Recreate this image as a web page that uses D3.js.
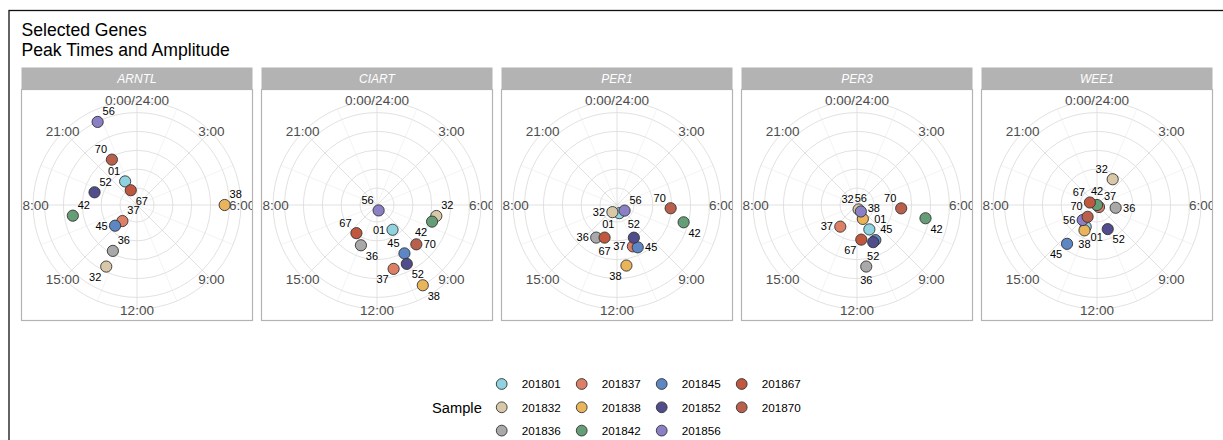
<!DOCTYPE html>
<html><head><meta charset="utf-8">
<script src="https://cdn.jsdelivr.net/npm/d3@7"></script>
<style>
body{margin:0;background:#fff;}
svg{display:block;font-family:"Liberation Sans",Arial,Helvetica,sans-serif;}
</style></head><body>
<svg id="chart" width="1223" height="440"></svg>
<script>
// ---------------- data ----------------
const genes = ["ARNTL", "CIART", "PER1", "PER3", "WEE1"];
const samples = ["201801","201832","201836","201837","201838","201842","201845","201852","201856","201867","201870"];
const palette = ["#8fd2e0","#d8c8a8","#a9a9a9","#dc7f66","#e9b45a","#659e76","#5d87c4","#514c8c","#8b80c6","#c0573f","#b9604d"];
// peak time (hours) and amplitude per gene, in the order of `samples`
const arntlPeak = [22.22,13.77,13.85,14.82, 6.00,17.37,15.11,19.11,22.31,22.47,22.07];
const arntlAmp  = [0.30, 0.75, 0.57, 0.25, 0.95, 0.71, 0.34, 0.49, 0.995,0.19, 0.57];
const ciartPeak = [ 9.86, 6.70,13.45,11.03,10.02, 7.12,10.03,10.21,10.90,14.41, 9.00];
const ciartAmp  = [0.33, 0.66, 0.48, 0.72, 1.00, 0.63, 0.61, 0.72, 0.08, 0.39, 0.61];
const per1Peak  = [10.97,14.19,14.17,10.60,11.41, 6.97,10.26,10.18, 8.43,13.39, 6.23];
const per1Amp   = [0.11, 0.11, 0.43, 0.49, 0.67, 0.75, 0.52, 0.41, 0.12, 0.39, 0.59];
const per3Peak  = [10.21,10.67,11.43,14.51,10.48, 6.73,10.16,10.43, 9.95,11.53, 6.29];
const per3Amp   = [0.31, 0.07, 0.68, 0.31, 0.18, 0.76, 0.44, 0.45, 0.10, 0.39, 0.49];
const wee1Peak  = [13.83, 2.09, 6.56, 9.00,13.75, 3.90,14.51,10.40,14.91,19.29,14.57];
const wee1Amp   = [0.28, 0.34, 0.22, 0.05, 0.32, 0.02, 0.54, 0.30, 0.24, 0.10, 0.18];
const peakByGene = [arntlPeak, ciartPeak, per1Peak, per3Peak, wee1Peak];
const ampByGene  = [arntlAmp, ciartAmp, per1Amp, per3Amp, wee1Amp];
const thetaBreaks = [0, 3, 6, 9, 12, 15, 18, 21];
const thetaMinor  = [1.5, 4.5, 7.5, 10.5, 13.5, 16.5, 19.5, 22.5];
const thetaTickLabels = ["0:00/24:00","3:00","6:00","9:00","12:00","15:00","18:00","21:00"];
const titleLines = ["Selected Genes", "Peak Times and Amplitude"];
const legendTitle = "Sample";

// ---------------- layout ----------------
const svg = d3.select("#chart");
const P = 231, px0 = 21.5, pitch = 240, py0 = 89.5, stripH = 22;
const rMax = 0.4 * P, rOut = 0.45 * P, rLab = 0.455 * P;
const ptR = 5.6;

svg.append("rect").attr("x",9).attr("y",10.5).attr("width",1400).attr("height",600)
  .attr("fill","#fff").attr("stroke","#111").attr("stroke-width",1.3);

svg.selectAll("text.title").data(titleLines).join("text")
  .attr("x", 21.5).attr("y",(d,i)=>35.5+i*20.5)
  .attr("font-size",17.6).attr("fill","#000").text(d=>d);

const theta = d3.scaleLinear().domain([0,24]).range([0, 2*Math.PI]);
const allAmps = ampByGene.flat();
const rScale = d3.scaleLinear().domain(d3.extent(allAmps)).range([0, rMax]);
const rTicks = rScale.ticks(5).filter(t => t > rScale.domain()[0]);
const color = d3.scaleOrdinal().domain(samples).range(palette);

function polar(h, r){ const a = theta(h); return [r*Math.sin(a), -r*Math.cos(a)]; }

function overlapArea(a,b){
  const w = Math.min(a.x1,b.x1)-Math.max(a.x0,b.x0);
  const h = Math.min(a.y1,b.y1)-Math.max(a.y0,b.y0);
  return (w>0&&h>0)? w*h : 0;
}

// greedy label repel: pick the least-overlapping spot around each point
function placeLabels(pts, W, H){
  const lw = 13, lh = 9, pr = ptR;
  const near = [[11,-10.5],[-11,-10.5],[11,10.5],[-11,10.5],[13.5,0],[-13.5,0],[0,-13.5],[0,13.5]];
  const cands = near.concat(near.map(([a,b])=>[a*1.7,b*1.7]));
  const placed = [];
  pts.forEach(p=>{
    // direction away from neighbouring points
    let ax=0, ay=0;
    pts.forEach(q=>{ if(q!==p){ const dx=p.x-q.x, dy=p.y-q.y, d2=dx*dx+dy*dy+1; if(d2<900){ax+=dx/d2; ay+=dy/d2;} }});
    let best=null, bestS=Infinity;
    cands.forEach(([dx,dy],k)=>{
      const bx=p.x+dx, by=p.y+dy;
      const box={x0:bx-lw/2,x1:bx+lw/2,y0:by-lh/2,y1:by+lh/2};
      let s = k*0.05 + (k>=8?8:0) - 20*(ax*dx+ay*dy)/Math.hypot(dx,dy);
      pts.forEach(q=>{ s += overlapArea(box,{x0:q.x-pr,x1:q.x+pr,y0:q.y-pr,y1:q.y+pr}); });
      placed.forEach(b=>{ s += 3*overlapArea(box,b); });
      if (box.x0<2||box.x1>W-2||box.y0<2||box.y1>H-2) s += 500;
      if (s<bestS){bestS=s;best={x:bx,y:by,box,far:k>=8};}
    });
    placed.push(best.box); p.lx=best.x; p.ly=best.y; p.far=best.far;
  });
}

genes.forEach((g, gi)=>{
  const x0 = px0 + gi*pitch, cx = P/2, cy = P/2;
  const panel = svg.append("g").attr("transform",`translate(${x0},${py0})`);
  const clipId = "clip"+gi;
  panel.append("clipPath").attr("id",clipId).append("rect").attr("width",P).attr("height",P);
  panel.append("rect").attr("width",P).attr("height",P).attr("fill","#fff");
  const inner = panel.append("g").attr("clip-path",`url(#${clipId})`);
  const grid = inner.append("g").attr("transform",`translate(${cx},${cy})`);
  grid.selectAll("line.minor").data(thetaMinor).join("line")
    .attr("x1",0).attr("y1",0)
    .attr("x2",d=>polar(d,rOut)[0]).attr("y2",d=>polar(d,rOut)[1])
    .attr("stroke","#ebebeb").attr("stroke-width",0.6);
  grid.selectAll("line.major").data(thetaBreaks).join("line")
    .attr("x1",0).attr("y1",0)
    .attr("x2",d=>polar(d,rOut)[0]).attr("y2",d=>polar(d,rOut)[1])
    .attr("stroke","#dedede").attr("stroke-width",0.9);
  grid.selectAll("circle.ring").data(rTicks.map(t=>rScale(t)).concat([rOut])).join("circle")
    .attr("r",d=>d).attr("fill","none").attr("stroke","#dedede").attr("stroke-width",0.9);

  const pts = samples.map((s,i)=>{
    const [dx,dy] = polar(peakByGene[gi][i], rScale(ampByGene[gi][i]));
    return {s, i, x: cx+dx, y: cy+dy, text: s.slice(4)};
  });
  placeLabels(pts, P, P);

  const lab = inner.append("g");
  lab.selectAll("line.seg").data(pts.filter(p=>p.far)).join("line")
    .attr("x1",p=>p.x).attr("y1",p=>p.y).attr("x2",p=>p.lx).attr("y2",p=>p.ly)
    .attr("stroke","#000").attr("stroke-width",0.6);
  inner.append("g").selectAll("circle").data(pts).join("circle")
    .attr("cx",p=>p.x).attr("cy",p=>p.y).attr("r",ptR)
    .attr("fill",p=>color(p.s)).attr("stroke","#333").attr("stroke-width",0.9);
  inner.append("g").selectAll("text").data(pts).join("text")
    .attr("x",p=>p.lx).attr("y",p=>p.ly).attr("dy","0.35em")
    .attr("text-anchor","middle").attr("font-size",11).attr("fill","#000").text(p=>p.text);

  inner.append("g").attr("transform",`translate(${cx},${cy})`)
    .selectAll("text").data(thetaBreaks).join("text")
    .attr("x",d=>polar(d,rLab)[0]).attr("y",d=>polar(d,rLab)[1]).attr("dy","0.36em")
    .attr("text-anchor","middle").attr("font-size",13.5).attr("fill","#4d4d4d")
    .text((d,i)=>thetaTickLabels[i]);

  panel.append("rect").attr("width",P).attr("height",P).attr("fill","none")
    .attr("stroke","#b3b3b3").attr("stroke-width",1.2);
  panel.append("rect").attr("y",-stripH).attr("width",P).attr("height",stripH).attr("fill","#b3b3b3");
  panel.append("text").attr("x",P/2).attr("y",-stripH/2).attr("dy","0.36em")
    .attr("text-anchor","middle").attr("font-size",12).attr("font-style","italic")
    .attr("fill","#fff").text(g);
});

// legend
const leg = svg.append("g");
leg.append("text").attr("x",432).attr("y",407.3).attr("dy","0.36em")
  .attr("font-size",14.7).attr("fill","#000").text(legendTitle);
const items = leg.selectAll("g.item").data(samples).join("g")
  .attr("transform",(d,i)=>`translate(${501.7+80*Math.floor(i/3)},${384+23.3*(i%3)})`);
items.append("circle").attr("r",5.4).attr("fill",d=>color(d)).attr("stroke","#333").attr("stroke-width",0.9);
items.append("text").attr("x",20).attr("dy","0.36em").attr("font-size",11.7).attr("fill","#000").text(d=>d);
</script>
</body></html>
